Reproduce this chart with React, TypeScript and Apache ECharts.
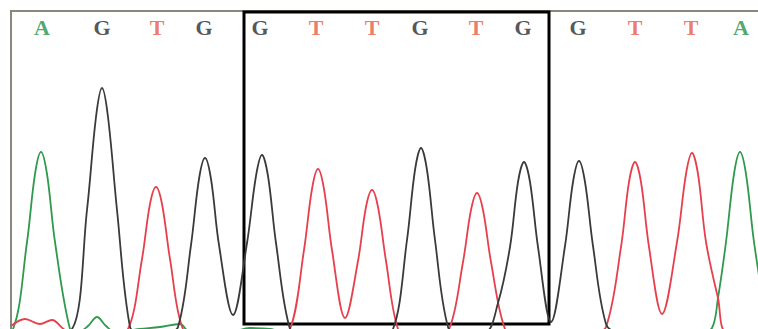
import React, { useEffect, useRef } from "react";
import * as echarts from "echarts";

// Base calls and their scan positions
const baseCalls = ["A", "G", "T", "G", "G", "T", "T", "G", "T", "G", "G", "T", "T", "A"];
const callPositions = [42, 102, 157, 204, 260, 316, 372, 420, 476, 523, 578, 635, 691, 741];
const callColors: Record<string, string> = { A: "#22904a", G: "#2a2a2e", T: "#e85a45" };

// Chromatogram traces: [scan position, signal]
const traceA: number[][] = [
  [0, 0], [13, 3], [27, 90], [35, 158], [41, 180], [47, 158], [55, 90], [70, 3], [78, 0],
  [88, 6], [97, 15], [106, 6], [115, 0], [140, 3], [160, 5], [180, 8], [190, 0],
  [230, 0], [250, 4], [270, 3], [285, 0], [700, 0], [712, 4], [718, 34],
  [726, 90], [734, 158], [740, 180], [746, 158], [754, 90], [768, 0],
];
const traceG: number[][] = [
  [50, 0], [72, 3], [87, 122], [96, 215], [102, 244], [108, 215], [117, 122], [130, 5], [140, 0],
  [165, 0], [178, 5], [191, 87], [199, 153], [205, 174], [211, 153], [219, 87], [233, 17],
  [247, 89], [256, 156], [262, 177], [268, 156], [276, 89], [290, 3], [300, 0],
  [380, 0], [393, 3], [407, 92], [415, 162], [421, 184], [427, 162], [435, 92], [448, 5], [460, 0],
  [485, 0], [498, 29], [510, 85], [518, 150], [524, 170], [530, 150], [538, 85], [551, 10],
  [565, 86], [573, 150], [579, 171], [585, 150], [593, 86], [606, 8], [618, 0], [770, 0],
];
const traceT: number[][] = [
  [11, 6], [25, 13], [40, 8], [52, 12], [65, 2], [75, 0],
  [115, 0], [128, 3], [142, 73], [150, 128], [156, 145], [162, 128], [170, 73], [183, 3], [195, 0],
  [278, 0], [290, 3], [304, 82], [312, 143], [318, 163], [324, 143], [332, 82], [345, 14],
  [358, 71], [366, 125], [372, 142], [378, 125], [386, 71], [398, 3], [408, 0],
  [437, 0], [449, 3], [463, 70], [471, 122], [477, 139], [483, 122], [491, 70], [505, 3], [515, 0],
  [592, 0], [606, 5], [621, 85], [629, 150], [635, 170], [641, 150], [649, 85], [662, 18],
  [677, 90], [686, 158], [692, 179], [698, 158], [706, 90], [718, 34], [727, 0], [770, 0],
];

// Highlighted region (scan positions) and its signal extent
const boxRange = [244, 549];
const boxSignal = [8, 320];

export default function App() {
  const ref = useRef<HTMLDivElement>(null);
  useEffect(() => {
    if (!ref.current) return;
    const chart = echarts.init(ref.current, undefined, { renderer: "svg" });
    const lineBase = {
      type: "line" as const,
      smooth: 0.35,
      showSymbol: false,
      symbol: "none",
      clip: true,
      silent: true,
    };
    chart.setOption({
      animation: false,
      backgroundColor: "#ffffff",
      grid: { left: 11, top: 11, right: 0, bottom: 0 },
      xAxis: { type: "value", min: 11, max: 758, show: false },
      yAxis: { type: "value", min: 3, max: 321, show: false },
      graphic: [
        {
          type: "polyline",
          shape: { points: [[11, 329], [11, 11], [758, 11]] },
          style: { stroke: "#8b877d", lineWidth: 2, fill: "none" },
          silent: true,
          z: 1,
        },
      ],
      series: [
        { ...lineBase, name: "A", data: traceA, lineStyle: { color: "#2e9a4c", width: 1.8 } },
        { ...lineBase, name: "T", data: traceT, lineStyle: { color: "#e6404c", width: 1.8 } },
        {
          ...lineBase,
          name: "G",
          data: traceG,
          lineStyle: { color: "#3a3a3a", width: 1.8 },
          markArea: {
            silent: true,
            itemStyle: { color: "transparent", borderColor: "#000", borderWidth: 3 },
            data: [[
              { xAxis: boxRange[0], yAxis: boxSignal[1] },
              { xAxis: boxRange[1], yAxis: boxSignal[0] },
            ]],
          },
        },
        {
          type: "scatter",
          symbolSize: 0,
          silent: true,
          data: baseCalls.map((b, i) => ({
            name: b,
            value: [callPositions[i], 305],
            label: { color: callColors[b] },
          })),
          label: {
            show: true,
            position: "inside",
            formatter: (p: any) => p.name,
            fontFamily: "Liberation Serif",
            fontWeight: "bold",
            fontSize: 22,
          },
        },
      ],
    });
    return () => chart.dispose();
  }, []);
  return (
    <div
      ref={ref}
      style={{ position: "fixed", left: 0, top: 0, width: 758, height: 329 }}
    />
  );
}
